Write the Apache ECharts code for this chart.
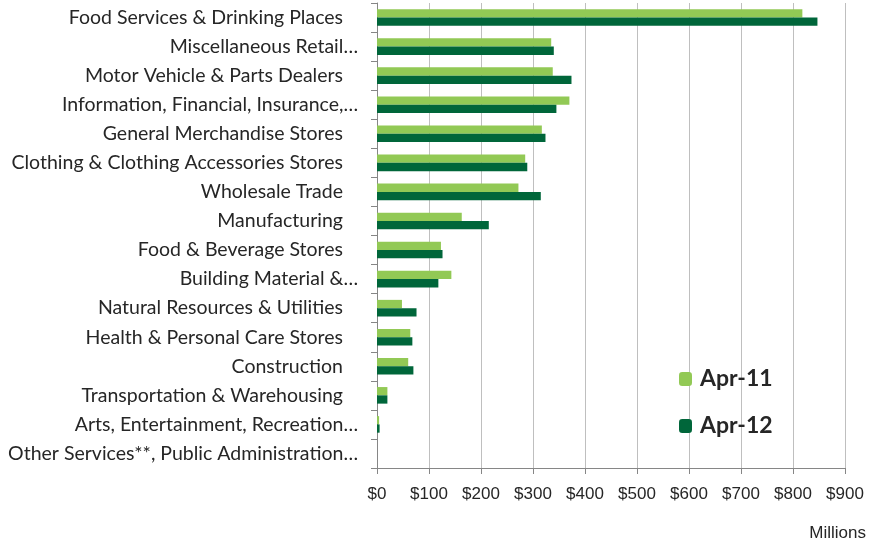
<!DOCTYPE html>
<html>
<head>
<meta charset="utf-8">
<script src="https://cdn.jsdelivr.net/npm/echarts@6/dist/echarts.min.js"></script>
<style>html,body{margin:0;padding:0;background:#fff}#c{width:878px;height:544px}</style>
</head>
<body>
<div id="c"></div>
<script>
const categories = [
  "Food Services & Drinking Places",
  "Miscellaneous Retail…",
  "Motor Vehicle & Parts Dealers",
  "Information, Financial, Insurance,…",
  "General Merchandise Stores",
  "Clothing & Clothing Accessories Stores",
  "Wholesale Trade",
  "Manufacturing",
  "Food & Beverage Stores",
  "Building Material &…",
  "Natural Resources & Utilities",
  "Health & Personal Care Stores",
  "Construction",
  "Transportation & Warehousing",
  "Arts, Entertainment, Recreation…",
  "Other Services**, Public Administration…"
];
const apr11 = [818, 335, 338, 370, 317, 285, 272, 163, 123, 143, 48, 64, 60, 20, 4, 0];
const apr12 = [847, 340, 374, 345, 324, 289, 315, 215, 126, 118, 76, 68, 70, 20, 5, 0];
const seriesNames = ["Apr-11", "Apr-12"];
const xTicks = ["$0","$100","$200","$300","$400","$500","$600","$700","$800","$900"];
const unitLabel = "Millions";

const chart = echarts.init(document.getElementById('c'));
chart.setOption({
  animation: false,
  grid: { left: 377, right: 33, top: 3, bottom: 76, containLabel: false },
  legend: {
    orient: 'vertical', left: 679, top: 367, padding: 0,
    itemWidth: 13, itemHeight: 14, itemGap: 23,
    data: seriesNames,
    textStyle: { fontFamily: 'Lato', fontWeight: 'bold', fontSize: 23, lineHeight: 24, color: '#262626', padding: [0,0,0,3] }
  },
  graphic: [{
    type: 'text', right: 12, top: 525,
    style: { text: unitLabel, fontFamily: 'Liberation Sans', fontSize: 17, fill: '#262626' }
  }],
  xAxis: {
    type: 'value', min: 0, max: 900, interval: 100,
    axisLine: { show: true, lineStyle: { color: '#868686', width: 1 } },
    axisTick: { show: true, length: 6, lineStyle: { color: '#868686' } },
    splitLine: { show: true, lineStyle: { color: '#BFBFBF', width: 1 } },
    axisLabel: {
      margin: 18, fontFamily: 'Liberation Sans', fontSize: 17, color: '#262626',
      formatter: v => xTicks[Math.round(v / 100)]
    }
  },
  yAxis: {
    type: 'category', data: categories, inverse: true,
    axisLine: { show: true, lineStyle: { color: '#868686', width: 1 } },
    axisTick: { show: true, length: 6, lineStyle: { color: '#868686' } },
    axisLabel: {
      margin: 19, fontFamily: 'Lato', fontSize: 19.5, color: '#262626',
      formatter: v => v.endsWith('…') ? '{e|' + v + '}' : '{n|' + v + '}',
      rich: {
        e: { fontFamily: 'Lato', fontSize: 19.5, color: '#262626' },
        n: { fontFamily: 'Lato', fontSize: 19.5, color: '#262626', padding: [0, 15, 0, 0] }
      }
    }
  },
  series: [
    { name: seriesNames[0], type: 'bar', data: apr11, barGap: '0%', barCategoryGap: '43%',
      itemStyle: { color: '#92C955' } },
    { name: seriesNames[1], type: 'bar', data: apr12, barGap: '0%', barCategoryGap: '43%',
      itemStyle: { color: '#00663A' } }
  ]
});
</script>
</body>
</html>
